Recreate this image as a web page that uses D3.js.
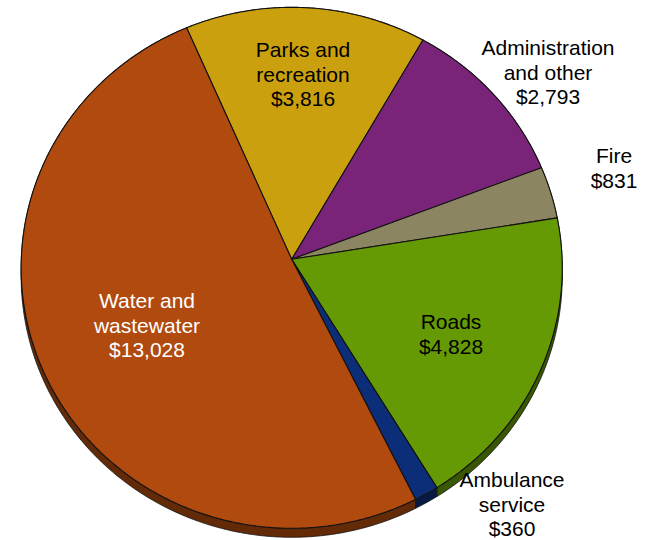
<!DOCTYPE html>
<html>
<head>
<meta charset="utf-8">
<script src="https://cdn.jsdelivr.net/npm/d3@7/dist/d3.min.js"></script>
<style>
  html, body { margin: 0; padding: 0; background: #ffffff; }
  svg { display: block; }
  text { font-family: "Liberation Sans", Arial, sans-serif; }
</style>
</head>
<body>
<svg id="chart" width="649" height="540"></svg>
<script>
// Spending by service (thousands of dollars)
const categories = ["Parks and recreation", "Administration and other", "Fire", "Roads", "Ambulance service", "Water and wastewater"];
const values = [3816, 2793, 831, 4828, 360, 13028];
const labelLines = [["Parks and", "recreation"], ["Administration", "and other"], ["Fire"], ["Roads"], ["Ambulance", "service"], ["Water and", "wastewater"]];
const sliceColors = ["#CBA00E", "#7A2479", "#8C8561", "#659A05", "#0C2E78", "#B04A0E"];

// Label anchors: centre x, first baseline y, text colour
const labelPlacement = {
  "Parks and recreation":      { x: 303, y: 57,  fill: "#000" },
  "Administration and other":  { x: 548, y: 55,  fill: "#000" },
  "Fire":                      { x: 614, y: 163, fill: "#000" },
  "Roads":                     { x: 451, y: 329, fill: "#000" },
  "Ambulance service":         { x: 512, y: 487, fill: "#000" },
  "Water and wastewater":      { x: 147, y: 308, fill: "#fff" }
};

const svg = d3.select("#chart");
const W = 649, H = 540;

// Tilted disc viewed in perspective
const cx = 291.7, cy = 259.3;
const radiusX = 270.4, radiusY = 260.2;
const persp = 0.0327;        // foreshortening: far edge smaller than near edge
const thickness = 8.7;       // visible depth of the rim

function project(theta, r = 1, drop = 0) {
  const c = Math.cos(theta), s = Math.sin(theta);
  const w = 1 + persp * r * c;
  return [cx + radiusX * r * s / w, cy - radiusY * r * c / w + drop / (1 + persp * c)];
}

function arcPoints(a0, a1, drop = 0) {
  const n = Math.max(2, Math.ceil((a1 - a0) / (Math.PI / 360)));
  const pts = [];
  for (let i = 0; i <= n; i++) {
    const t = a0 + (a1 - a0) * i / n;
    pts.push(project(t, 1, drop));
  }
  return pts;
}

const startAngle = -23.6 * Math.PI / 180;
const pie = d3.pie().sort(null).value(d => d.value)
  .startAngle(startAngle).endAngle(startAngle + 2 * Math.PI);

const data = categories.map((c, i) => ({ name: c, value: values[i], color: sliceColors[i], lines: labelLines[i] }));
const arcs = pie(data);

const line = d3.line().curve(d3.curveLinear);

// Rim (side walls) first, so the top faces cover the far side
const sides = svg.append("g");
arcs.forEach(a => {
  const top = arcPoints(a.startAngle, a.endAngle, 0);
  const bottom = arcPoints(a.startAngle, a.endAngle, thickness).reverse();
  sides.append("path")
    .attr("d", line(top.concat(bottom)) + "Z")
    .attr("fill", d3.color(a.data.color).darker(1.6))
    .attr("stroke", "#111")
    .attr("stroke-width", 0.8)
    .attr("stroke-linejoin", "round");
});

// Top faces
const faces = svg.append("g");
arcs.forEach(a => {
  const pts = [project(0, 0)].concat(arcPoints(a.startAngle, a.endAngle, 0));
  faces.append("path")
    .attr("d", line(pts) + "Z")
    .attr("fill", a.data.color)
    .attr("stroke", "#111")
    .attr("stroke-width", 1.1)
    .attr("stroke-linejoin", "round");
});

// Labels
const fmt = d3.format("$,");
const lineHeight = 24.6;
const labels = svg.append("g");
arcs.forEach(a => {
  const p = labelPlacement[a.data.name];
  const txt = a.data.lines.concat([fmt(a.data.value)]);
  const t = labels.append("text")
    .attr("text-anchor", "middle")
    .attr("font-size", 21)
    .attr("fill", p.fill);
  txt.forEach((s, i) => {
    t.append("tspan").attr("x", p.x).attr("y", p.y + i * lineHeight).text(s);
  });
});
</script>
</body>
</html>
